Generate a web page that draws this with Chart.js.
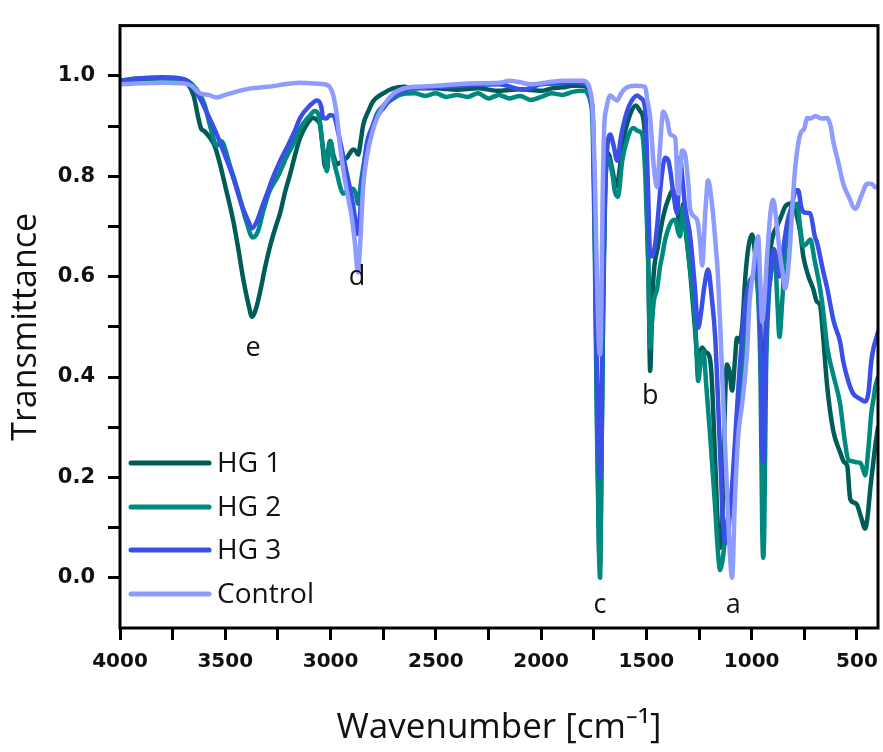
<!DOCTYPE html>
<html><head><meta charset="utf-8">
<script src="https://cdn.jsdelivr.net/npm/chart.js@4.4.0/dist/chart.umd.min.js"></script>
<style>html,body{margin:0;padding:0;background:#fff}</style>
</head><body>
<canvas id="c" width="883" height="752"></canvas>
<script>
// ---------- DATA ----------
const seriesNames = ['HG 1', 'HG 2', 'HG 3', 'Control'];

const controlWn = [4000,3900,3800,3700,3660,3620,3580,3540,3500,3450,3380,3300,3200,3145,3050,3017,2990,2970,2955,2935,2920,2900,2885,2870,2860,2845,2827,2800,2779,2750,2700,2650,2600,2500,2400,2300,2200,2150,2100,2050,2000,1950,1900,1850,1800,1780,1767,1755,1745,1735,1725,1720,1715,1708,1700,1690,1672,1655,1639,1620,1592,1550,1506,1495,1482,1465,1449,1435,1420,1400,1387,1363,1349,1330,1316,1300,1292,1259,1245,1235,1220,1207,1190,1173,1160,1150,1135,1120,1105,1093,1080,1064,1045,1022,1010,993,980,969,960,950,940,925,910,898,880,865,850,841,830,817,805,793,770,750,736,720,698,670,641,625,613,590,565,540,508,480,451,430,413,400];
const controlT = [0.983,0.985,0.986,0.985,0.98,0.965,0.962,0.957,0.962,0.968,0.975,0.978,0.984,0.986,0.984,0.982,0.965,0.92,0.86,0.80,0.765,0.72,0.67,0.608,0.66,0.78,0.84,0.89,0.916,0.94,0.965,0.975,0.978,0.98,0.983,0.985,0.986,0.99,0.987,0.983,0.985,0.988,0.99,0.99,0.99,0.985,0.97,0.93,0.8,0.6,0.46,0.445,0.5,0.75,0.9,0.935,0.961,0.955,0.951,0.965,0.977,0.98,0.978,0.95,0.916,0.82,0.778,0.86,0.929,0.91,0.883,0.876,0.765,0.851,0.843,0.78,0.733,0.713,0.67,0.622,0.73,0.792,0.75,0.674,0.6,0.51,0.35,0.2,0.06,0.0,0.15,0.282,0.347,0.45,0.55,0.608,0.66,0.68,0.6,0.51,0.55,0.65,0.73,0.753,0.7,0.641,0.6,0.576,0.6,0.667,0.75,0.818,0.883,0.895,0.916,0.915,0.92,0.915,0.916,0.9,0.87,0.83,0.785,0.76,0.735,0.76,0.785,0.785,0.778,0.78];

const hg3Wn = [4000,3900,3800,3720,3680,3650,3620,3580,3540,3500,3463,3420,3390,3373,3350,3320,3302,3273,3240,3207,3170,3145,3100,3064,3045,3035,3020,3002,2985,2960,2940,2920,2900,2885,2875,2865,2850,2830,2800,2770,2750,2700,2650,2600,2500,2400,2300,2200,2120,2080,2040,2000,1900,1850,1800,1780,1765,1753,1745,1735,1725,1720,1712,1700,1690,1672,1655,1639,1620,1592,1570,1544,1525,1506,1492,1482,1473,1460,1449,1430,1411,1395,1387,1370,1354,1340,1330,1316,1292,1270,1254,1240,1225,1207,1190,1173,1150,1135,1120,1105,1090,1075,1060,1045,1030,1010,995,975,962,955,948,943,935,925,910,895,880,870,858,845,830,810,790,779,765,755,740,722,700,689,660,641,610,580,565,540,518,500,480,461,445,432,420,408,400];
const hg3T = [0.99,0.995,0.997,0.995,0.99,0.975,0.955,0.92,0.883,0.84,0.798,0.74,0.71,0.696,0.71,0.745,0.765,0.798,0.83,0.857,0.89,0.916,0.94,0.951,0.94,0.916,0.915,0.922,0.92,0.88,0.84,0.80,0.76,0.72,0.685,0.70,0.78,0.86,0.9,0.925,0.935,0.96,0.97,0.975,0.978,0.98,0.982,0.983,0.975,0.972,0.978,0.983,0.985,0.987,0.985,0.98,0.96,0.9,0.7,0.4,0.22,0.2,0.4,0.7,0.83,0.883,0.86,0.831,0.88,0.929,0.95,0.961,0.955,0.935,0.772,0.64,0.641,0.66,0.7,0.79,0.837,0.83,0.812,0.76,0.726,0.837,0.8,0.739,0.68,0.58,0.498,0.53,0.58,0.614,0.56,0.478,0.25,0.1,0.07,0.12,0.2,0.3,0.4,0.48,0.55,0.59,0.6,0.63,0.55,0.4,0.24,0.23,0.42,0.55,0.6,0.655,0.63,0.6,0.63,0.67,0.71,0.74,0.772,0.772,0.74,0.729,0.727,0.726,0.68,0.667,0.61,0.576,0.51,0.47,0.431,0.39,0.367,0.36,0.355,0.351,0.37,0.431,0.46,0.478,0.49];

const hg2Wn = [4000,3900,3800,3720,3680,3640,3600,3572,3540,3520,3477,3440,3400,3370,3345,3320,3290,3250,3207,3170,3145,3100,3075,3055,3040,3030,3017,3008,3000,2985,2969,2955,2940,2920,2893,2880,2869,2855,2840,2827,2800,2779,2750,2700,2670,2600,2550,2500,2450,2400,2350,2300,2250,2200,2150,2100,2050,2000,1950,1900,1850,1800,1780,1767,1755,1745,1735,1725,1720,1714,1705,1695,1682,1660,1650,1635,1615,1590,1563,1540,1520,1505,1492,1482,1475,1465,1449,1435,1425,1410,1397,1380,1363,1350,1340,1325,1310,1292,1268,1254,1242,1230,1215,1197,1175,1160,1150,1140,1120,1100,1088,1075,1060,1045,1030,1010,995,980,968,958,950,945,940,932,920,905,890,878,868,855,840,820,800,784,770,755,740,722,700,675,660,641,610,580,560,541,520,500,484,470,461,445,432,420,413,400];
const hg2T = [0.99,0.995,0.995,0.993,0.99,0.975,0.945,0.90,0.86,0.87,0.82,0.77,0.71,0.678,0.69,0.73,0.77,0.80,0.84,0.87,0.895,0.92,0.93,0.92,0.87,0.84,0.81,0.85,0.87,0.83,0.804,0.78,0.765,0.77,0.775,0.765,0.745,0.79,0.83,0.857,0.9,0.925,0.94,0.955,0.962,0.965,0.96,0.965,0.958,0.962,0.958,0.965,0.955,0.962,0.955,0.96,0.952,0.958,0.965,0.962,0.968,0.97,0.965,0.95,0.9,0.65,0.3,0.05,0.0,0.2,0.55,0.78,0.837,0.8,0.77,0.759,0.83,0.875,0.896,0.89,0.883,0.8,0.641,0.459,0.5,0.55,0.576,0.62,0.641,0.675,0.694,0.71,0.713,0.69,0.68,0.739,0.68,0.614,0.51,0.392,0.43,0.451,0.38,0.282,0.15,0.05,0.015,0.03,0.1,0.15,0.176,0.25,0.33,0.42,0.5,0.57,0.6,0.6,0.55,0.4,0.1,0.04,0.1,0.4,0.55,0.62,0.64,0.55,0.48,0.55,0.65,0.72,0.74,0.745,0.7,0.661,0.665,0.674,0.63,0.576,0.53,0.459,0.4,0.347,0.28,0.235,0.232,0.23,0.229,0.215,0.204,0.26,0.327,0.36,0.38,0.40];

const hg1Wn = [4000,3900,3800,3720,3680,3650,3630,3615,3600,3572,3550,3525,3500,3463,3440,3415,3390,3373,3355,3335,3310,3287,3260,3240,3215,3192,3170,3145,3110,3083,3060,3050,3038,3026,3012,3002,2985,2969,2945,2922,2905,2893,2880,2869,2855,2845,2820,2798,2750,2703,2650,2600,2500,2400,2300,2200,2100,2000,1950,1900,1850,1800,1780,1767,1755,1745,1735,1725,1720,1714,1705,1695,1682,1660,1645,1635,1610,1580,1550,1530,1510,1498,1490,1482,1475,1468,1445,1420,1397,1373,1355,1340,1325,1310,1290,1270,1255,1245,1235,1220,1200,1190,1175,1160,1150,1140,1130,1117,1105,1093,1080,1070,1058,1045,1030,1015,998,985,970,958,950,945,940,930,915,900,880,860,840,820,800,785,770,755,730,708,690,675,660,641,613,580,560,546,532,515,499,480,461,450,437,425,413,400];
const hg1T = [0.99,0.993,0.995,0.993,0.985,0.96,0.92,0.895,0.89,0.876,0.86,0.824,0.78,0.713,0.66,0.596,0.545,0.52,0.535,0.569,0.62,0.661,0.70,0.726,0.77,0.804,0.84,0.876,0.905,0.916,0.91,0.902,0.86,0.818,0.85,0.87,0.84,0.824,0.83,0.837,0.848,0.853,0.85,0.843,0.875,0.902,0.93,0.949,0.965,0.975,0.978,0.975,0.975,0.972,0.975,0.97,0.973,0.97,0.975,0.977,0.98,0.98,0.975,0.96,0.92,0.7,0.35,0.06,0.03,0.2,0.55,0.8,0.845,0.81,0.78,0.79,0.87,0.92,0.941,0.93,0.9,0.75,0.6,0.412,0.5,0.588,0.66,0.72,0.753,0.772,0.74,0.70,0.745,0.68,0.6,0.5,0.43,0.45,0.459,0.45,0.44,0.4,0.25,0.1,0.06,0.1,0.3,0.425,0.41,0.373,0.43,0.478,0.47,0.5,0.6,0.66,0.684,0.65,0.58,0.48,0.38,0.35,0.4,0.55,0.64,0.68,0.7,0.72,0.74,0.745,0.745,0.72,0.69,0.641,0.6,0.576,0.55,0.543,0.478,0.38,0.294,0.25,0.23,0.223,0.157,0.15,0.145,0.12,0.098,0.12,0.176,0.22,0.263,0.3];

// x tick positions (400 is the axis end: no mark, no label)
const xTickValues = [4000,3750,3500,3250,3000,2750,2500,2250,2000,1750,1500,1250,1000,750,500,400];
const yTickValues = [0,0.1,0.2,0.3,0.4,0.5,0.6,0.7,0.8,0.9,1.0];

const peakLabels = ['a','b','c','d','e'];
const peakWn = [1088,1482,1720,2874,3368];
const peakT = [-0.055,0.361,-0.055,0.598,0.457];

// ---------- STYLE ----------
const colors = ['#005c58','#00897f','#3a4fe8','#8e9bff'];
const toPts = (w, t) => w.map((x, i) => ({x: x, y: t[i]}));
const allWn = [hg1Wn, hg2Wn, hg3Wn, controlWn];
const allT = [hg1T, hg2T, hg3T, controlT];

const datasets = seriesNames.map((name, i) => ({
  label: name,
  data: toPts(allWn[i], allT[i]),
  borderColor: colors[i],
  backgroundColor: colors[i],
  borderWidth: 4.5,
  pointRadius: 0,
  fill: false,
  cubicInterpolationMode: 'monotone',
  borderJoinStyle: 'round',
  borderCapStyle: 'round',
  order: 3 - i
}));

const overlay = {
  id: 'overlay',
  afterDraw(chart) {
    const ctx = chart.ctx, ca = chart.chartArea;
    const xs = chart.scales.x, ys = chart.scales.y;
    ctx.save();
    ctx.strokeStyle = '#000';
    ctx.lineWidth = 3;
    ctx.strokeRect(ca.left, ca.top, ca.right - ca.left, ca.bottom - ca.top);
    ctx.fillStyle = '#111';
    ctx.font = '27px "Open Sans"';
    ctx.textAlign = 'center';
    ctx.textBaseline = 'middle';
    peakLabels.forEach((l, i) => {
      ctx.fillText(l, xs.getPixelForValue(peakWn[i]), ys.getPixelForValue(peakT[i]));
    });
    const rowY = [463, 507, 550, 594];
    ctx.textAlign = 'left';
    ctx.font = '28px "Open Sans"';
    seriesNames.forEach((name, i) => {
      ctx.strokeStyle = colors[i];
      ctx.lineWidth = 5;
      ctx.lineCap = 'round';
      ctx.beginPath();
      ctx.moveTo(131, rowY[i]);
      ctx.lineTo(209, rowY[i]);
      ctx.stroke();
      ctx.fillStyle = '#111';
      ctx.fillText(name, 217, rowY[i] + 1);
    });
    ctx.restore();
  }
};

new Chart(document.getElementById('c'), {
  type: 'line',
  data: { datasets: datasets },
  options: {
    responsive: false,
    animation: false,
    devicePixelRatio: 1,
    layout: { padding: { top: 16, right: 5, left: 0, bottom: 0 } },
    plugins: { legend: { display: false }, tooltip: { enabled: false } },
    scales: {
      x: {
        type: 'linear', reverse: true, min: 400, max: 4000,
        afterBuildTicks: s => { s.ticks = xTickValues.map(v => ({ value: v })); },
        afterFit: s => { s.height = 124; s.paddingLeft = 0; s.paddingRight = 0; },
        ticks: {
          autoSkip: false, maxRotation: 0, padding: 10, color: '#111',
          font: { family: 'DejaVu Sans', weight: 'bold', size: 20 },
          callback: v => (v % 500 === 0 ? String(v) : '')
        },
        grid: { drawOnChartArea: false, drawTicks: true, tickLength: 12, tickWidth: 3,
                tickColor: c => (c.tick && c.tick.value === 400 ? 'rgba(0,0,0,0)' : '#000') },
        border: { display: false },
        title: { display: true, text: 'Wavenumber [cm⁻¹]', color: '#111',
                 font: { family: 'Open Sans', size: 35 }, padding: { top: 0, bottom: 3 } }
      },
      y: {
        type: 'linear', min: -0.1, max: 1.1,
        afterBuildTicks: s => { s.ticks = yTickValues.map(v => ({ value: v })); },
        afterFit: s => { s.width = 120; },
        ticks: {
          autoSkip: false, padding: 13, color: '#111',
          font: { family: 'DejaVu Sans', weight: 'bold', size: 21 },
          callback: v => (Math.round(v * 10) % 2 === 0 ? v.toFixed(1) : '')
        },
        grid: { drawOnChartArea: false, drawTicks: true, tickLength: 12, tickWidth: 3, tickColor: '#000' },
        border: { display: false },
        title: { display: true, text: 'Transmittance', color: '#111',
                 font: { family: 'Open Sans', size: 34 }, padding: { top: 6, bottom: 0 } }
      }
    }
  },
  plugins: [overlay]
});
</script>
</body></html>
